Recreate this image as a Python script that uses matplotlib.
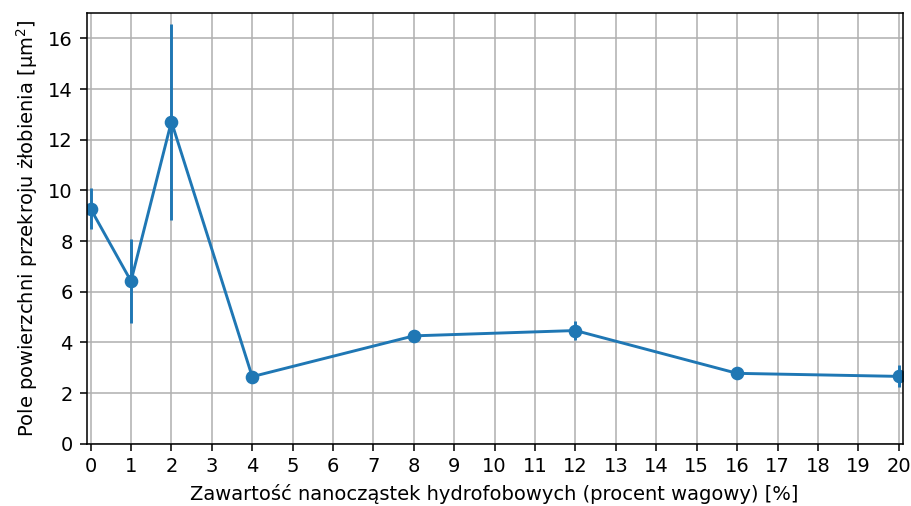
import numpy as np
from matplotlib import pyplot as plt

# zawartosc nanoczastek [% wag.] i srednie pole przekroju zlobienia
zawartosc = [0, 1, 2, 4, 8, 12, 16, 20]
pole = [9.28, 6.42, 12.72, 2.65, 4.26, 4.47, 2.78, 2.66]
odch = [0.82, 1.65, 3.87, 0.12, 0.12, 0.37, 0.12, 0.43]

fig, ax = plt.subplots(figsize=(911 / 140, 506 / 140), dpi=140)
ax.errorbar(zawartosc, pole, yerr=odch, fmt='-o', color='#1f77b4')
ax.set_xticks(np.arange(0, 21, 1))
ax.set_xlim(-0.1, 20.1)
ax.set_ylim(0, 17)
ax.grid(True)
ax.set_xlabel('Zawartość nanocząstek hydrofobowych (procent wagowy) [%]')
ax.set_ylabel(r'Pole powierzchni przekroju żłobienia [$\mathrm{\mu m^2}$]')
plt.subplots_adjust(left=0.095, right=0.991, top=0.974, bottom=0.123)
plt.savefig('out.png')
